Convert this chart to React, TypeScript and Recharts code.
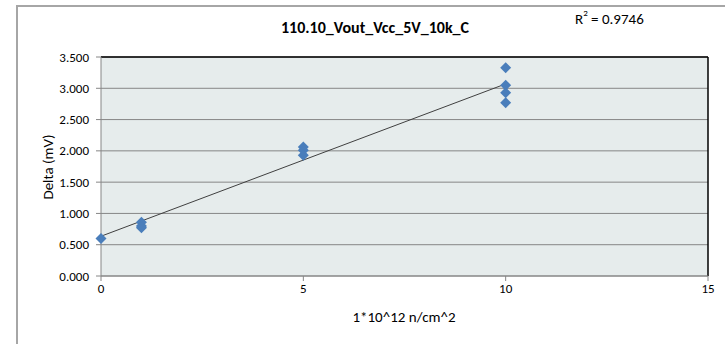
import {
  ScatterChart,
  Scatter,
  XAxis,
  YAxis,
  CartesianGrid,
  ReferenceLine,
} from 'recharts'

// fluence (1e12 n/cm^2) and measured delta (mV)
const fluence = [0, 1, 1, 1, 5, 5, 5, 10, 10, 10, 10]
const delta = [0.6, 0.86, 0.8, 0.77, 2.06, 2.01, 1.93, 3.33, 3.05, 2.93, 2.77]

const xTicks = [0, 5, 10, 15]
const yTicks = [0, 0.5, 1, 1.5, 2, 2.5, 3, 3.5]

const title = '110.10_Vout_Vcc_5V_10k_C'
const rSquared = '0.9746'
const xTitle = '1*10^12 n/cm^2'
const yTitle = 'Delta (mV)'

const points = fluence.map((x, i) => ({ x, y: delta[i] }))

// least squares trendline, same as the excel one
function linearFit(xs: number[], ys: number[]) {
  const n = xs.length
  const mx = xs.reduce((a, b) => a + b, 0) / n
  const my = ys.reduce((a, b) => a + b, 0) / n
  let sxy = 0
  let sxx = 0
  for (let i = 0; i < n; i++) {
    sxy += (xs[i] - mx) * (ys[i] - my)
    sxx += (xs[i] - mx) * (xs[i] - mx)
  }
  const slope = sxy / sxx
  return { slope, intercept: my - slope * mx }
}

const fit = linearFit(fluence, delta)
const xMin = Math.min(...fluence)
const xMax = Math.max(...fluence)

const FONT = 'Carlito, Lato, "Noto Sans", sans-serif'
const GRID = '#868686'

function Diamond(props: any) {
  const { cx, cy } = props
  const r = 5.5
  return (
    <polygon
      points={`${cx},${cy - r} ${cx + r},${cy} ${cx},${cy + r} ${cx - r},${cy}`}
      fill="#4A7EBB"
    />
  )
}

export default function App() {
  return (
    <div
      style={{
        position: 'absolute',
        left: 0,
        top: 0,
        width: 725,
        height: 344,
        overflow: 'hidden',
        background: '#fff',
        fontFamily: FONT,
        lineHeight: 1.2,
      }}
    >
      <div
        style={{
          position: 'absolute',
          left: 16,
          top: 5,
          width: 740,
          height: 360,
          borderLeft: '2px solid #A6A6A6',
          borderTop: '2px solid #A6A6A6',
        }}
      />
      <ScatterChart
        width={725}
        height={344}
        margin={{ top: 57, right: 17, bottom: 38, left: 41 }}
        style={{ position: 'absolute', left: 0, top: 0 }}
      >
        <CartesianGrid vertical={false} stroke={GRID} fill="#E6ECEC" fillOpacity={1} />
        <XAxis
          type="number"
          dataKey="x"
          domain={[0, 15]}
          ticks={xTicks}
          height={30}
          tickSize={5}
          tickMargin={3}
          stroke={GRID}
          tick={{ fill: '#000', fontSize: 13, fontFamily: FONT }}
        />
        <YAxis
          type="number"
          dataKey="y"
          domain={[0, 3.5]}
          ticks={yTicks}
          width={60}
          tickSize={5}
          tickMargin={7}
          stroke={GRID}
          tickFormatter={(v: number) => v.toFixed(3)}
          tick={{ fill: '#000', fontSize: 13, fontFamily: FONT }}
        />
        <ReferenceLine y={3.5} stroke="#000" strokeWidth={1.5} />
        <ReferenceLine x={15} stroke="#000" strokeWidth={1.5} />
        <ReferenceLine
          segment={[
            { x: xMin, y: fit.intercept + fit.slope * xMin },
            { x: xMax, y: fit.intercept + fit.slope * xMax },
          ]}
          stroke="#404040"
          strokeWidth={1}
        />
        <Scatter data={points} shape={<Diamond />} isAnimationActive={false} />
      </ScatterChart>
      <div
        style={{
          position: 'absolute',
          left: 0,
          width: 750,
          top: 18,
          textAlign: 'center',
          fontWeight: 'bold',
          fontSize: 16,
        }}
      >
        {title}
      </div>
      <div style={{ position: 'absolute', left: 575, top: 10, fontSize: 15 }}>
        R<sup style={{ fontSize: 9, verticalAlign: 'top', position: 'relative', top: -2 }}>2</sup> = {rSquared}
      </div>
      <div
        style={{
          position: 'absolute',
          left: 0,
          width: 808,
          top: 308,
          textAlign: 'center',
          fontSize: 15,
        }}
      >
        {xTitle}
      </div>
      <div
        style={{
          position: 'absolute',
          left: 48,
          top: 167,
          fontSize: 15,
          whiteSpace: 'nowrap',
          transform: 'translate(-50%, -50%) rotate(-90deg)',
        }}
      >
        {yTitle}
      </div>
    </div>
  )
}
